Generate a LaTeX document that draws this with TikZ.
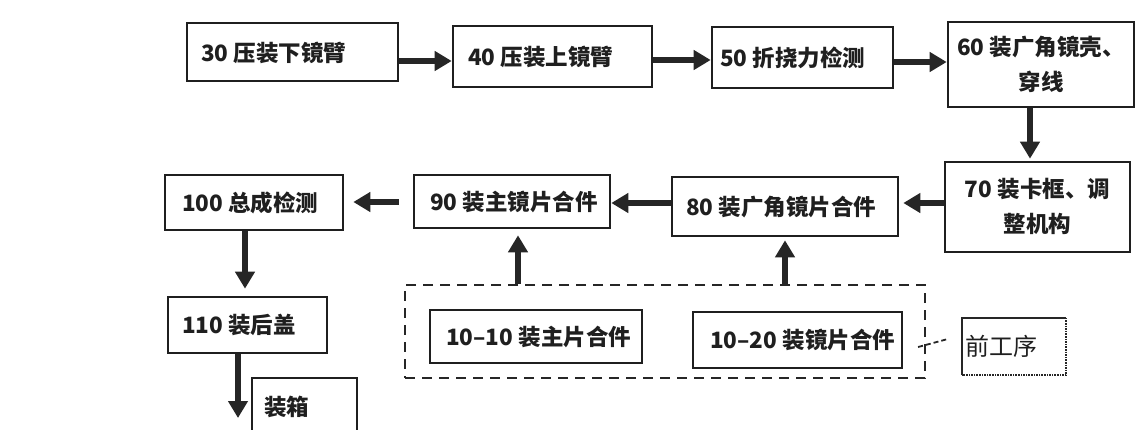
\documentclass[tikz,border=0pt]{standalone}
\usepackage{fontspec}
\setmainfont{Noto Sans CJK SC}
\usetikzlibrary{arrows.meta,calc}
\begin{document}
\begin{tikzpicture}[x=1pt,y=-1pt,
  box/.style={draw=black!88, line width=2.6pt, inner sep=0pt},
  lbl/.style={font=\bfseries\fontsize{22.5}{26}\selectfont, text=black!88, inner sep=0pt, anchor=west},
  lbltwo/.style={font=\bfseries\fontsize{22.5}{35}\selectfont, text=black!88, inner sep=0pt, align=center},
  arr/.style={-{Triangle[length=17pt,width=19pt]}, line width=5.5pt, draw=black!85},
  dashbox/.style={draw=black!85, line width=2.2pt, dash pattern=on 10pt off 7pt, inner sep=0pt},
  lead/.style={draw=black!85, line width=1.8pt, dash pattern=on 5pt off 3pt}]
\useasboundingbox (0,0) rectangle (1137,429);
\clip (0,0) rectangle (1137,429);
% top row
\node[box, minimum width=211pt, minimum height=58pt] (b30) at (292.5,52) {};
\node[lbl] (t30) at (201,53) {30 压装下镜臂};
\node[box, minimum width=199pt, minimum height=61pt] (b40) at (552.5,56.5) {};
\node[lbl] (t40) at (468,57) {40 压装上镜臂};
\node[box, minimum width=181pt, minimum height=61pt] (b50) at (802.5,57.5) {};
\node[lbl] (t50) at (720,58) {50 折挠力检测};
\node[box, minimum width=186pt, minimum height=85pt] (b60) at (1041,64.5) {};
\node[lbltwo] (t60) at (1041,64.5) {60 装广角镜壳、\\穿线};
% middle row
\node[box, minimum width=185pt, minimum height=90pt] (b70) at (1037.5,207) {};
\node[lbltwo] (t70) at (1037.5,206) {70 装卡框、调\\整机构};
\node[box, minimum width=226pt, minimum height=59pt] (b80) at (785,206.5) {};
\node[lbl] (t80) at (686,207) {80 装广角镜片合件};
\node[box, minimum width=196pt, minimum height=53pt] (b90) at (512,201.5) {};
\node[lbl] (t90) at (430,202) {90 装主镜片合件};
\node[box, minimum width=178pt, minimum height=55pt] (b100) at (254,202.5) {};
\node[lbl] (t100) at (182,203) {100 总成检测};
% bottom
\node[box, minimum width=159pt, minimum height=56pt] (b110) at (247.5,325) {};
\node[lbl] (t110) at (182,325) {110 装后盖};
\node[box, minimum width=105pt, minimum height=62pt] (bzx) at (304.5,409) {};
\node[lbl] (tzx) at (264,407) {装箱};
\node[dashbox, minimum width=520pt, minimum height=93pt] (pre) at (665,331.5) {};
\node[box, minimum width=212pt, minimum height=53pt] (b1010) at (536,336.5) {};
\node[lbl] (t1010) at (446,337) {10–10 装主片合件};
\node[box, minimum width=209pt, minimum height=56pt] (b1020) at (797.5,340) {};
\node[lbl] (t1020) at (710,340) {10–20 装镜片合件};
\node[minimum width=104pt, minimum height=57pt, inner sep=0pt] (qgx) at (1014,346.5) {};
\draw[black!85, line width=1.6pt] (qgx.south west) -- (qgx.north west) -- (qgx.north east);
\draw[black!85, line width=1.6pt, densely dotted] (qgx.north east) -- (qgx.south east) -- (qgx.south west);
\node[font=\fontsize{24}{28}\selectfont, text=black!88, inner sep=0pt, anchor=west] (tqgx) at (965,346) {前工序};
% connectors
\draw[arr] (b30.east |- 0,61) -- (b40.west |- 0,61);
\draw[arr] (b40.east |- 0,60) -- (b50.west |- 0,60);
\draw[arr] (b50.east |- 0,62) -- (b60.west |- 0,62);
\draw[arr, shorten >=2pt] (b60.south -| 1030,0) -- (b70.north -| 1030,0);
\draw[arr, shorten >=4pt] (b70.west |- 0,203) -- (b80.east |- 0,203);
\draw[arr] (b80.west |- 0,203) -- (b90.east |- 0,203);
\draw[arr, shorten <=14pt, shorten >=9pt] (b90.west |- 0,202) -- (b100.east |- 0,202);
\draw[arr, shorten >=7pt] (b100.south -| 245,0) -- (b110.north -| 245,0);
\coordinate (zxin) at (238,418);
\draw[arr] (b110.south -| 238,0) -- (zxin);
\draw[arr, shorten >=6pt] (pre.north -| 518,0) -- (b90.south -| 518,0);
\draw[arr, shorten >=3pt] (pre.north -| 785,0) -- (b80.south -| 785,0);
\draw[lead] ($(pre.east)+(-8,15.5)$) -- ($(qgx.west)+(-14,-7.5)$);
\end{tikzpicture}
\end{document}
